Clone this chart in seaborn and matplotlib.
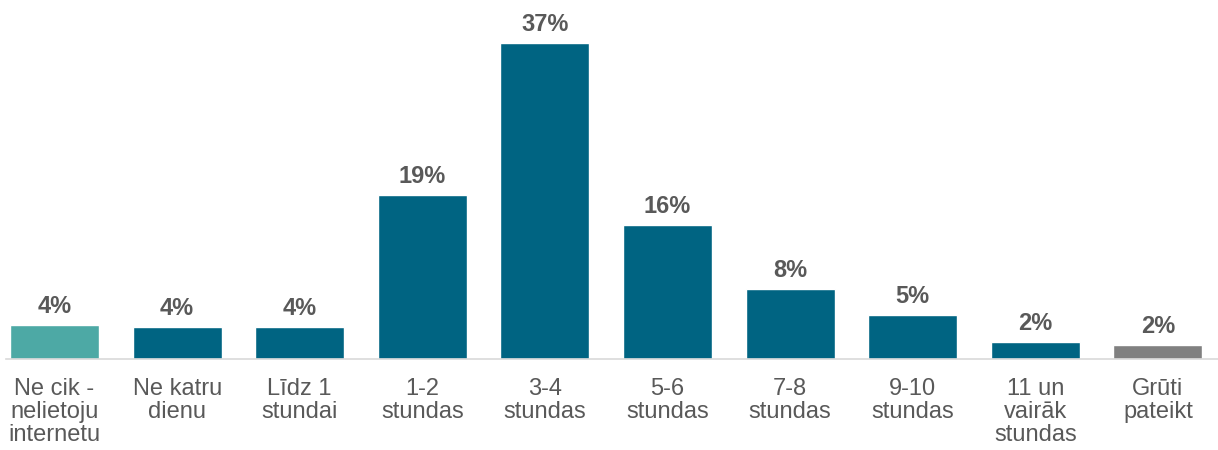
import matplotlib
matplotlib.use("Agg")
import matplotlib.pyplot as plt
import seaborn as sns
import pandas as pd

categories = ["Ne cik -\nnelietoju\ninternetu", "Ne katru\ndienu", "Līdz 1\nstundai",
              "1-2\nstundas", "3-4\nstundas", "5-6\nstundas", "7-8\nstundas",
              "9-10\nstundas", "11 un\nvairāk\nstundas", "Grūti\npateikt"]
values = [4.0, 3.75, 3.75, 19.2, 37.0, 15.7, 8.2, 5.15, 2.0, 1.6]
labels = ["4%", "4%", "4%", "19%", "37%", "16%", "8%", "5%", "2%", "2%"]
colors = ["#4DA9A5"] + ["#006482"] * 8 + ["#808080"]

sns.set_theme(style="white")
plt.rcParams['font.family'] = ['Liberation Sans', 'DejaVu Sans']

df = pd.DataFrame({"cat": categories, "val": values})
fig = plt.figure(figsize=(12.18, 4.5), dpi=100)
ax = fig.add_axes([6/1218, 91/450, 1212/1218, 359/450])
sns.barplot(data=df, x="cat", y="val", hue="cat", palette=colors, legend=False,
            width=0.726, saturation=1, ax=ax)

for i, (v, lab) in enumerate(zip(values, labels)):
    ax.annotate(lab, (i, v), xytext=(0, 5), textcoords="offset points",
                ha="center", va="bottom", fontsize=17, fontweight="bold", color="#595959")

ax.set_xlim(-0.396, 9.49)
ax.set_ylim(0, 37 * 359 / 316)
ax.set_xlabel("")
ax.set_ylabel("")
ax.set_yticks([])
for s in ["top", "right", "left"]:
    ax.spines[s].set_visible(False)
ax.spines["bottom"].set_color("#D9D9D9")
ax.spines["bottom"].set_linewidth(1.2)
ax.tick_params(axis="x", length=0, pad=13.5, labelsize=17, labelcolor="#595959")
for t in ax.get_xticklabels():
    t.set_linespacing(1.08)

fig.savefig("out.png", dpi=100)
